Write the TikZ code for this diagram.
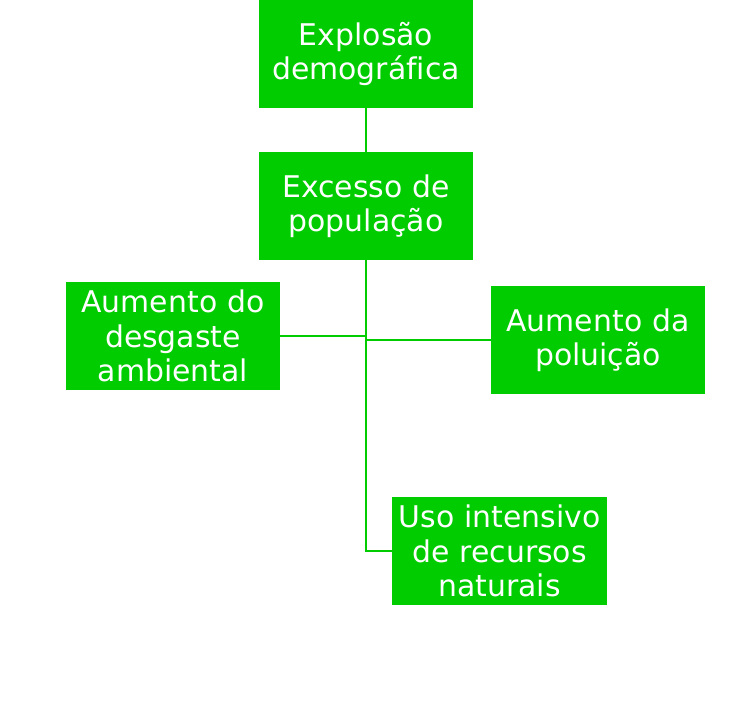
\documentclass[tikz,border=0pt]{standalone}
\usepackage{fontspec}
\setmainfont{DejaVu Sans}[WordSpace=1.6, Ligatures=NoCommon]
\usetikzlibrary{positioning}
\definecolor{boxgreen}{HTML}{00CC00}
\tikzstyle{topic} = [rectangle, minimum width=4.28cm, minimum height=2.16cm, inner sep=0pt, text width=4.2cm, align=center, fill=boxgreen, text=white, font=\fontsize{17}{19.6}\selectfont]
\tikzstyle{link} = [draw=boxgreen, line width=1.2pt]

\begin{document}
\begin{tikzpicture}[x=0.02cm, y=-0.02cm]
	\useasboundingbox (0,0) rectangle (742,715);
	\node (explosao) [topic] at (366,54) {Explosão\\demográfica};
	\node (excesso) [topic] at (366,206) {Excesso de\\população};
	\node (desgaste) [topic] at (173,336) {Aumento do\\desgaste\\ambiental};
	\node (poluicao) [topic] at (598,340) {Aumento da\\poluição};
	\node (recursos) [topic, minimum width=4.3cm] at (499.5,551) {Uso intensivo\\de recursos\\naturais};
	
	\draw [link](explosao) -- (excesso);
	\draw [link](excesso.south) |- (recursos.west);
	\draw [link](desgaste) -- (desgaste -| excesso);
	\draw [link](poluicao) -- (poluicao -| excesso);
\end{tikzpicture}
\end{document}
